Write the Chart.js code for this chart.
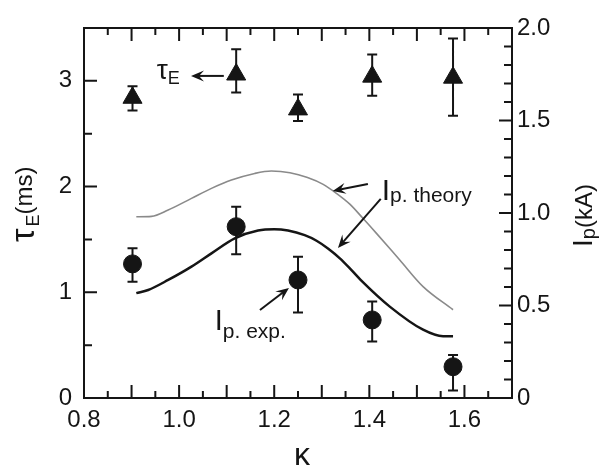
<!DOCTYPE html>
<html>
<head>
<meta charset="utf-8">
<script src="https://cdn.jsdelivr.net/npm/chart.js@4.4.0/dist/chart.umd.min.js"></script>
<style>
  html, body { margin: 0; padding: 0; background: #fff; }
  #wrap { width: 599px; height: 468px; }
</style>
</head>
<body>
<div id="wrap"><canvas id="c" width="599" height="468"></canvas></div>
<script>
// measured points vs elongation kappa
const kappaPts = [0.902, 1.12, 1.25, 1.406, 1.576];
const tauE   = [2.84, 3.06, 2.73, 3.04, 3.03];
const tauELo = [2.72, 2.89, 2.62, 2.86, 2.67];
const tauEHi = [2.95, 3.30, 2.87, 3.25, 3.40];
const ipExp   = [0.725, 0.926, 0.638, 0.422, 0.169];
const ipExpLo = [0.629, 0.777, 0.462, 0.305, 0.040];
const ipExpHi = [0.810, 1.034, 0.764, 0.521, 0.232];

// theory curves (Ip, kA)
const greyKappa = [0.910, 0.942, 0.977, 1.026, 1.068, 1.110, 1.159, 1.194, 1.233, 1.270, 1.303, 1.330, 1.359, 1.387, 1.415, 1.464, 1.513, 1.576];
const ipGrey    = [0.980, 0.982, 1.016, 1.079, 1.133, 1.178, 1.214, 1.227, 1.218, 1.192, 1.155, 1.108, 1.048, 0.970, 0.890, 0.746, 0.602, 0.477];
const blackKappa = [0.910, 0.935, 0.977, 1.026, 1.068, 1.117, 1.166, 1.200, 1.229, 1.264, 1.289, 1.313, 1.338, 1.363, 1.387, 1.443, 1.513, 1.555, 1.576];
const ipBlack    = [0.567, 0.584, 0.638, 0.710, 0.782, 0.863, 0.905, 0.912, 0.905, 0.880, 0.850, 0.808, 0.755, 0.690, 0.625, 0.494, 0.369, 0.334, 0.334];

// axis ranges
const xRange = [0.8, 1.7];
const tauRange = [0, 3.5];
const ipRange = [0, 2.0];

const FONT = "'Liberation Sans', Arial, sans-serif";
const INK = "#151515";

const pts = (xs, ys) => xs.map((x, i) => ({ x: x, y: ys[i] }));
const isMult = (v, step) => Math.abs(v / step - Math.round(v / step)) < 1e-6;

// inward ticks + full frame
const framePlugin = {
  id: "frame",
  afterDatasetsDraw(chart) {
    const { ctx, chartArea: a, scales } = chart;
    ctx.save();
    ctx.strokeStyle = INK;
    ctx.lineWidth = 2;
    ctx.beginPath();
    scales.x.ticks.forEach(t => {
      const px = scales.x.getPixelForValue(t.value);
      const len = isMult(t.value, 0.1) ? 13 : 7;
      ctx.moveTo(px, a.bottom); ctx.lineTo(px, a.bottom - len);
      ctx.moveTo(px, a.top); ctx.lineTo(px, a.top + len);
    });
    scales.yL.ticks.forEach(t => {
      const py = scales.yL.getPixelForValue(t.value);
      const len = isMult(t.value, 1) ? 13 : 8;
      ctx.moveTo(a.left, py); ctx.lineTo(a.left + len, py);
    });
    scales.yR.ticks.forEach(t => {
      const py = scales.yR.getPixelForValue(t.value);
      const len = isMult(t.value, 0.5) ? 13 : 8;
      ctx.moveTo(a.right, py); ctx.lineTo(a.right - len, py);
    });
    ctx.stroke();
    ctx.strokeRect(a.left, a.top, a.right - a.left, a.bottom - a.top);
    ctx.restore();
  }
};

// error bars drawn from the lo/hi arrays
const errorBarPlugin = {
  id: "errbars",
  beforeDatasetsDraw(chart) {
    const { ctx, scales } = chart;
    const draw = (lo, hi, s) => {
      kappaPts.forEach((k, i) => {
        const px = scales.x.getPixelForValue(k);
        const y1 = s.getPixelForValue(lo[i]);
        const y2 = s.getPixelForValue(hi[i]);
        ctx.moveTo(px, y1); ctx.lineTo(px, y2);
        ctx.moveTo(px - 5, y1); ctx.lineTo(px + 5, y1);
        ctx.moveTo(px - 5, y2); ctx.lineTo(px + 5, y2);
      });
    };
    ctx.save();
    ctx.strokeStyle = INK;
    ctx.lineWidth = 2;
    ctx.beginPath();
    draw(tauELo, tauEHi, scales.yL);
    draw(ipExpLo, ipExpHi, scales.yR);
    ctx.stroke();
    ctx.restore();
  }
};

function arrow(ctx, x1, y1, x2, y2) {
  const ang = Math.atan2(y2 - y1, x2 - x1);
  const L = 13, W = 5.5;
  ctx.beginPath();
  ctx.moveTo(x1, y1);
  ctx.lineTo(x2 - Math.cos(ang) * 6, y2 - Math.sin(ang) * 6);
  ctx.stroke();
  ctx.beginPath();
  ctx.moveTo(x2, y2);
  ctx.lineTo(x2 - Math.cos(ang) * L + Math.sin(ang) * W, y2 - Math.sin(ang) * L - Math.cos(ang) * W);
  ctx.lineTo(x2 - Math.cos(ang) * (L - 5), y2 - Math.sin(ang) * (L - 5));
  ctx.lineTo(x2 - Math.cos(ang) * L - Math.sin(ang) * W, y2 - Math.sin(ang) * L + Math.cos(ang) * W);
  ctx.closePath();
  ctx.fill();
}

// labels, arrows and axis titles
const notesPlugin = {
  id: "notes",
  afterDraw(chart) {
    const { ctx, scales } = chart;
    const X = v => scales.x.getPixelForValue(v);
    const Y = v => scales.yR.getPixelForValue(v);
    ctx.save();
    ctx.fillStyle = INK;
    ctx.strokeStyle = INK;
    ctx.lineWidth = 2;
    ctx.textBaseline = "alphabetic";
    ctx.textAlign = "left";

    // tau_E label + arrow
    let x = X(0.953), y = Y(1.726);
    ctx.font = "28px " + FONT;
    ctx.fillText("τ", x, y);
    x += ctx.measureText("τ").width;
    ctx.font = "18px " + FONT;
    ctx.fillText("E", x, y + 5);
    arrow(ctx, X(1.094), Y(1.741), X(1.025), Y(1.741));

    // Ip theory
    x = X(1.426); y = Y(1.068);
    ctx.font = "30px " + FONT;
    ctx.fillText("I", x, y);
    x += ctx.measureText("I").width;
    ctx.font = "21px " + FONT;
    ctx.fillText("p. theory", x, y + 2);
    arrow(ctx, X(1.397), Y(1.157), X(1.323), Y(1.119));
    arrow(ctx, X(1.424), Y(1.076), X(1.334), Y(0.811));

    // Ip exp
    x = X(1.075); y = Y(0.368);
    ctx.font = "29px " + FONT;
    ctx.fillText("I", x, y);
    x += ctx.measureText("I").width;
    ctx.font = "21px " + FONT;
    ctx.fillText("p. exp.", x, y + 8);
    arrow(ctx, X(1.170), Y(0.476), X(1.231), Y(0.595));

    // left title
    ctx.save();
    ctx.translate(34, 242);
    ctx.rotate(-Math.PI / 2);
    ctx.font = "34px " + FONT;
    ctx.fillText("τ", 0, 0);
    let w = ctx.measureText("τ").width + 2;
    ctx.font = "18px " + FONT;
    ctx.fillText("E", w, 5);
    w += ctx.measureText("E").width;
    ctx.font = "24px " + FONT;
    ctx.fillText("(ms)", w, -2);
    ctx.restore();

    // right title
    ctx.save();
    ctx.translate(592, 247);
    ctx.rotate(-Math.PI / 2);
    ctx.font = "28px " + FONT;
    ctx.fillText("I", 0, 0);
    w = ctx.measureText("I").width;
    ctx.font = "20px " + FONT;
    ctx.fillText("p", w, 3);
    w += ctx.measureText("p").width;
    ctx.font = "24px " + FONT;
    ctx.fillText("(kA)", w, 0);
    ctx.restore();

    // x title
    ctx.font = "32px " + FONT;
    ctx.textAlign = "center";
    ctx.fillText("κ", (chart.chartArea.left + chart.chartArea.right) / 2 + 4, 465);
    ctx.restore();
  }
};

const tickFont = { family: FONT, size: 24 };

new Chart(document.getElementById("c"), {
  type: "scatter",
  data: {
    datasets: [
      {
        label: "Ip theory (grey)",
        data: pts(greyKappa, ipGrey),
        yAxisID: "yR",
        showLine: true,
        borderColor: "#8a8a8a",
        borderWidth: 1.6,
        pointRadius: 0,
        cubicInterpolationMode: "monotone"
      },
      {
        label: "Ip theory",
        data: pts(blackKappa, ipBlack),
        yAxisID: "yR",
        showLine: true,
        borderColor: INK,
        borderWidth: 2.5,
        pointRadius: 0,
        cubicInterpolationMode: "monotone"
      },
      {
        label: "tauE",
        data: pts(kappaPts, tauE),
        yAxisID: "yL",
        pointStyle: "triangle",
        pointRadius: 11,
        backgroundColor: INK,
        borderColor: INK,
        borderWidth: 1
      },
      {
        label: "Ip exp",
        data: pts(kappaPts, ipExp),
        yAxisID: "yR",
        pointStyle: "circle",
        pointRadius: 9,
        backgroundColor: INK,
        borderColor: INK,
        borderWidth: 1
      }
    ]
  },
  options: {
    responsive: false,
    animation: false,
    layout: { padding: { top: 28, left: 0, right: 0, bottom: 0 } },
    plugins: { legend: { display: false }, tooltip: { enabled: false } },
    scales: {
      x: {
        type: "linear",
        position: "bottom",
        min: xRange[0], max: xRange[1],
        grid: { display: false, drawTicks: false },
        border: { display: false },
        afterFit: s => { s.height = 70; },
        ticks: {
          stepSize: 0.05, autoSkip: false, maxRotation: 0, padding: 8,
          color: INK, font: tickFont,
          callback: v => (isMult(v - 0.8, 0.2) && v < 1.65) ? v.toFixed(1) : ""
        }
      },
      yL: {
        type: "linear",
        position: "left",
        min: tauRange[0], max: tauRange[1],
        grid: { display: false, drawTicks: false },
        border: { display: false },
        afterFit: s => { s.width = 84; },
        ticks: {
          stepSize: 0.5, autoSkip: false, padding: 12,
          color: INK, font: tickFont,
          callback: v => isMult(v, 1) ? String(Math.round(v)) : ""
        }
      },
      yR: {
        type: "linear",
        position: "right",
        min: ipRange[0], max: ipRange[1],
        grid: { display: false, drawTicks: false },
        border: { display: false },
        afterFit: s => { s.width = 87; },
        ticks: {
          stepSize: 0.1, autoSkip: false, padding: 5,
          color: INK, font: tickFont,
          callback: v => isMult(v, 0.5) ? (v === 0 ? "0" : v.toFixed(1)) : ""
        }
      }
    }
  },
  plugins: [errorBarPlugin, framePlugin, notesPlugin]
});
</script>
</body>
</html>
